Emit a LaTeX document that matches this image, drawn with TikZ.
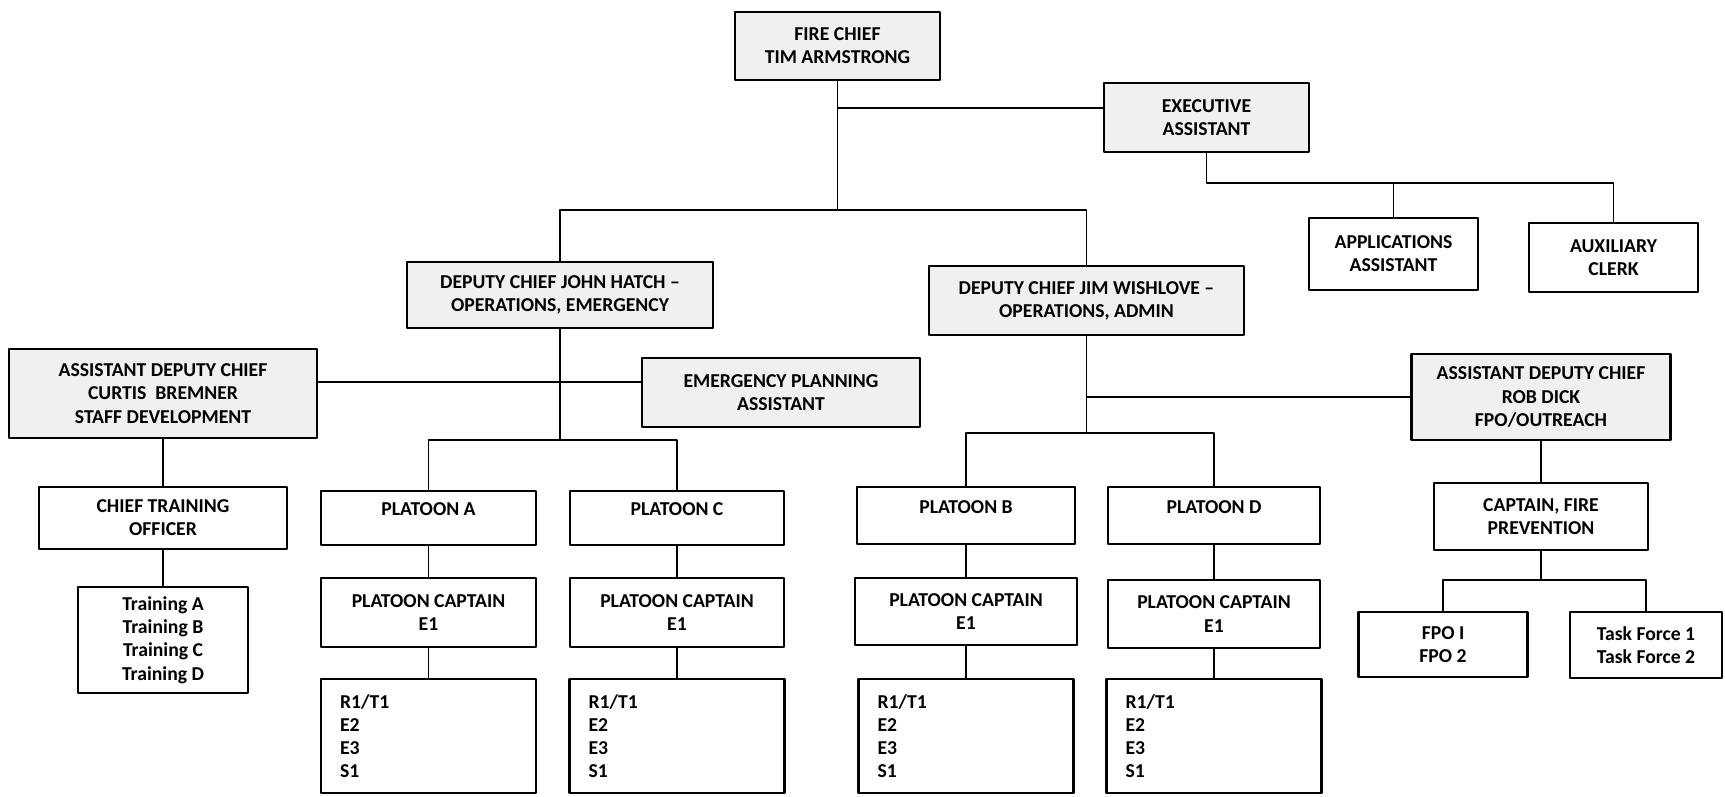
\documentclass[tikz,border=0pt]{standalone}
\usepackage{fontspec}
\setmainfont{Carlito}
\tikzset{
  dim/.style 2 args={minimum width=#1*0.02cm, minimum height=#2*0.02cm},
  box/.style={draw, line width=1.3pt, align=center, inner sep=2pt, fill=white},
  grey/.style={box, fill=black!6},
  plat/.style={box, text depth=0.35cm},
  crew/.style={box, align=left, inner xsep=0.38cm, text width=3.54cm, minimum height=2.28cm}
}
\begin{document}
\begin{tikzpicture}[x=0.02cm, y=-0.02cm, line width=1pt, line join=round, line cap=round,
  font=\fontsize{11.2}{13.2}\selectfont\bfseries]
\fill[white] (0,0) rectangle (1725,796);
\useasboundingbox (0,0) rectangle (1725,796);
% top of the chart
\node[grey, dim={205}{68}] (chief) at (837.5,46) {FIRE CHIEF\\TIM ARMSTRONG};
\node[grey, dim={205}{69}] (exec) at (1206.5,117.5) {EXECUTIVE\\ASSISTANT};
\node[box, dim={169}{72}] (apps) at (1393.5,254) {APPLICATIONS\\ASSISTANT};
\node[box, dim={169}{69}] (aux) at (1613.5,257.5) {AUXILIARY\\CLERK};
\node[grey, dim={306}{66}] (hatch) at (560,295) {DEPUTY CHIEF JOHN HATCH –\\OPERATIONS, EMERGENCY};
\node[grey, dim={315}{69}] (wish) at (1086.5,300.5) {DEPUTY CHIEF JIM WISHLOVE –\\OPERATIONS, ADMIN};
% assistant deputy chiefs
\node[grey, dim={308}{89}] (bremner) at (163,393.5) {ASSISTANT DEPUTY CHIEF\\CURTIS\ \ BREMNER\\STAFF DEVELOPMENT};
\node[grey, dim={278}{69}] (emerg) at (781,392.5) {EMERGENCY PLANNING\\ASSISTANT};
\node[grey, dim={259}{86}] (dick) at (1541,397) {ASSISTANT DEPUTY CHIEF\\ROB DICK\\FPO/OUTREACH};
\node[box, dim={248}{62}] (cto) at (163,518) {CHIEF TRAINING\\OFFICER};
\node[box, dim={170}{106}] (train) at (163,640) {Training A\\Training B\\Training C\\Training D};
% platoons
\node[plat, dim={215}{54}] (platA) at (428.5,518) {PLATOON A};
\node[plat, dim={214}{54}] (platC) at (677,518) {PLATOON C};
\node[plat, dim={218}{57}] (platB) at (966,515.5) {PLATOON B};
\node[plat, dim={212}{57}] (platD) at (1214,515.5) {PLATOON D};
\node[box, dim={215}{69}] (capA) at (428.5,612.5) {PLATOON CAPTAIN\\E1};
\node[box, dim={214}{69}] (capC) at (677,612.5) {PLATOON CAPTAIN\\E1};
\node[box, dim={222}{67}] (capB) at (966,611.5) {PLATOON CAPTAIN\\E1};
\node[box, dim={212}{68}] (capD) at (1214,614) {PLATOON CAPTAIN\\E1};
\node[crew] (crewA) at (428.5,736) {R1/T1\\E2\\E3\\S1};
\node[crew] (crewC) at (677,736) {R1/T1\\E2\\E3\\S1};
\node[crew] (crewB) at (966,736) {R1/T1\\E2\\E3\\S1};
\node[crew] (crewD) at (1214,736) {R1/T1\\E2\\E3\\S1};
% fire prevention
\node[box, dim={214}{67}] (captfp) at (1541,516.5) {CAPTAIN, FIRE\\PREVENTION};
\node[box, dim={169}{65}] (fpo) at (1443,644.5) {FPO I\\FPO 2};
\node[box, dim={152}{66}] (tf) at (1646,645) {Task Force 1\\Task Force 2};
% lines
\coordinate (chiefbar) at (837.5,210);
\coordinate (execbar) at (1206.5,183);
\coordinate (hatchbar) at (560,440);
\coordinate (wishbar) at (1086.5,433);
\coordinate (fpbar) at (1541,580);
\draw (chief.south) -- (chiefbar);
\draw (chief.south) |- ([yshift=0.19cm]exec.west);
\draw (hatch.north) |- (chiefbar) -| (wish.north);
\draw (exec.south) -- (execbar) -| (aux.north);
\draw (apps.north) -- (apps.north |- execbar);
\draw (hatch.south) -- (hatchbar);
\draw ([yshift=0.23cm]bremner.east) -- ([yshift=0.23cm]bremner.east -| emerg.west);
\draw (platA.north) |- (hatchbar) -| (platC.north);
\draw (bremner) -- (cto) -- (train);
\draw (platA) -- (capA) -- (crewA);
\draw (platC) -- (capC) -- (crewC);
\draw (wish.south) -- (wishbar);
\draw (platB.north) |- (wishbar) -| (platD.north);
\draw (wish.south) |- (dick.west);
\draw (platB) -- (capB) -- (crewB);
\draw (platD) -- (capD) -- (crewD);
\draw (dick) -- (captfp);
\draw (captfp.south) -- (fpbar);
\draw (fpo.north) |- (fpbar) -| (tf.north);
\end{tikzpicture}
\end{document}
